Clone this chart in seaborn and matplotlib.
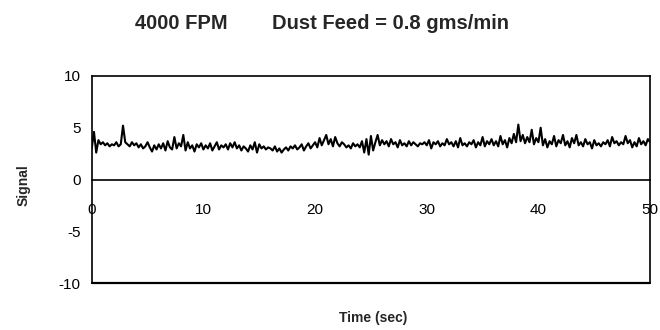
import numpy as np
import pandas as pd
import matplotlib
matplotlib.use('Agg')
import matplotlib.pyplot as plt
import seaborn as sns

sns.set_style('white')
plt.rcParams['font.family'] = ['Liberation Sans', 'DejaVu Sans']
plt.rcParams['axes.unicode_minus'] = False

# signal, one value every 0.2 s (0 .. 50 s)
signal = [
    3.0, 4.6, 2.6, 3.8, 3.4, 3.6, 3.3, 3.5, 3.2, 3.4,
    3.3, 3.6, 3.2, 3.4, 5.2, 3.6, 3.4, 3.2, 3.6, 3.3,
    3.5, 3.1, 3.4, 3.0, 3.2, 3.6, 3.1, 2.7, 3.3, 2.9,
    3.4, 3.0, 3.5, 2.8, 3.7, 3.1, 2.9, 4.1, 3.0, 3.5,
    3.2, 4.3, 2.8, 3.6, 3.0, 3.3, 2.7, 3.4, 3.1, 3.5,
    2.9, 3.3, 3.0, 3.5, 2.8, 3.2, 3.6, 2.9, 3.3, 3.1,
    3.4, 2.9, 3.5, 3.1, 3.6, 3.0, 3.3, 2.8, 3.2, 3.0,
    2.7, 3.3, 2.9, 3.6, 2.6, 3.4, 3.0, 3.2, 2.9, 3.1,
    3.0, 2.8, 3.2, 2.7, 3.0, 2.6, 2.9, 3.1, 2.8, 3.2,
    3.0, 3.3, 2.9, 3.1, 3.4, 2.8, 3.2, 3.5, 3.0, 3.3,
    3.6, 3.1, 4.0, 3.3, 3.8, 4.3, 3.4, 3.9, 3.2, 4.1,
    3.5, 3.2, 3.6, 3.4, 3.1, 3.3, 3.0, 3.5, 3.2, 3.4,
    3.1, 3.7, 2.6, 3.9, 2.4, 4.2, 2.8, 3.6, 4.3, 3.3,
    3.8, 3.4, 3.7, 3.2, 3.9, 3.4, 3.6, 3.1, 3.8, 3.3,
    3.5, 3.2, 3.7, 3.3, 3.6, 3.4, 3.2, 3.5, 3.4, 3.6,
    3.3, 3.8, 3.0, 3.6, 3.4, 3.7, 3.2, 3.5, 3.3, 3.9,
    3.4, 3.6, 3.2, 3.7, 3.1, 4.0, 3.3, 3.5, 3.2, 3.6,
    3.4, 3.8, 3.1, 3.6, 3.3, 4.1, 3.2, 3.7, 3.4, 3.9,
    3.3, 3.7, 3.2, 4.2, 3.4, 3.8, 3.1, 4.0, 3.5, 4.4,
    3.6, 5.3, 3.7, 4.3, 3.5, 4.1, 3.6, 4.8, 3.4, 4.0,
    3.6, 5.0, 3.3, 3.9, 3.1, 3.7, 3.4, 4.2, 3.2, 3.8,
    3.5, 4.3, 3.3, 3.7, 3.1, 4.0, 3.5, 4.3, 3.3, 3.6,
    3.2, 3.9, 3.4, 3.6, 3.0, 3.8, 3.3, 3.5, 3.2, 3.6,
    3.4, 3.8, 3.2, 4.1, 3.5, 3.7, 3.3, 3.6, 3.4, 4.2,
    3.5, 3.8, 3.1, 3.6, 3.2, 4.0, 3.4, 3.7, 3.3, 3.9, 3.6,
]
time_s = np.round(np.arange(len(signal)) * 0.2, 1)
x_ticks = [0, 10, 20, 30, 40, 50]
y_ticks = [-10, -5, 0, 5, 10]

df = pd.DataFrame({'Time': time_s, 'Signal': signal})

fig = plt.figure(figsize=(6.6, 3.3), dpi=100)
ax = fig.add_axes([0.139, 0.142, 0.846, 0.628])

sns.lineplot(data=df, x='Time', y='Signal', color='black', linewidth=1.5, ax=ax)

ax.set_xlim(0, 50)
ax.set_ylim(-10, 10)
ax.set_xticks(x_ticks)
ax.set_yticks(y_ticks)

# x axis runs through zero, frame kept around the plot
ax.spines['bottom'].set_position(('data', 0))
for s in ['left', 'right', 'top', 'bottom']:
    ax.spines[s].set_color('black')
    ax.spines[s].set_linewidth(1.2)
ax.axhline(-10, color='black', linewidth=1.6, clip_on=False)

ax.tick_params(axis='x', direction='inout', length=6, width=1, pad=14,
               labelsize=11, colors='black')
ax.tick_params(axis='y', direction='out', length=4, width=1, pad=4,
               labelsize=11, colors='black')

ax.set_xlabel('')
ax.set_ylabel('')
fig.text(0.565, 0.035, 'Time (sec)', ha='center', va='center',
         fontsize=10, fontweight='bold')
fig.text(0.035, 0.44, 'Signal', ha='center', va='center', rotation=90,
         fontsize=10, fontweight='bold')

fig.text(0.275, 0.93, '4000 FPM', ha='center', va='center',
         fontsize=14.5, fontweight='bold')
fig.text(0.5924, 0.93, 'Dust Feed = 0.8 gms/min', ha='center', va='center',
         fontsize=14.5, fontweight='bold')

fig.savefig('out.png', dpi=100)
